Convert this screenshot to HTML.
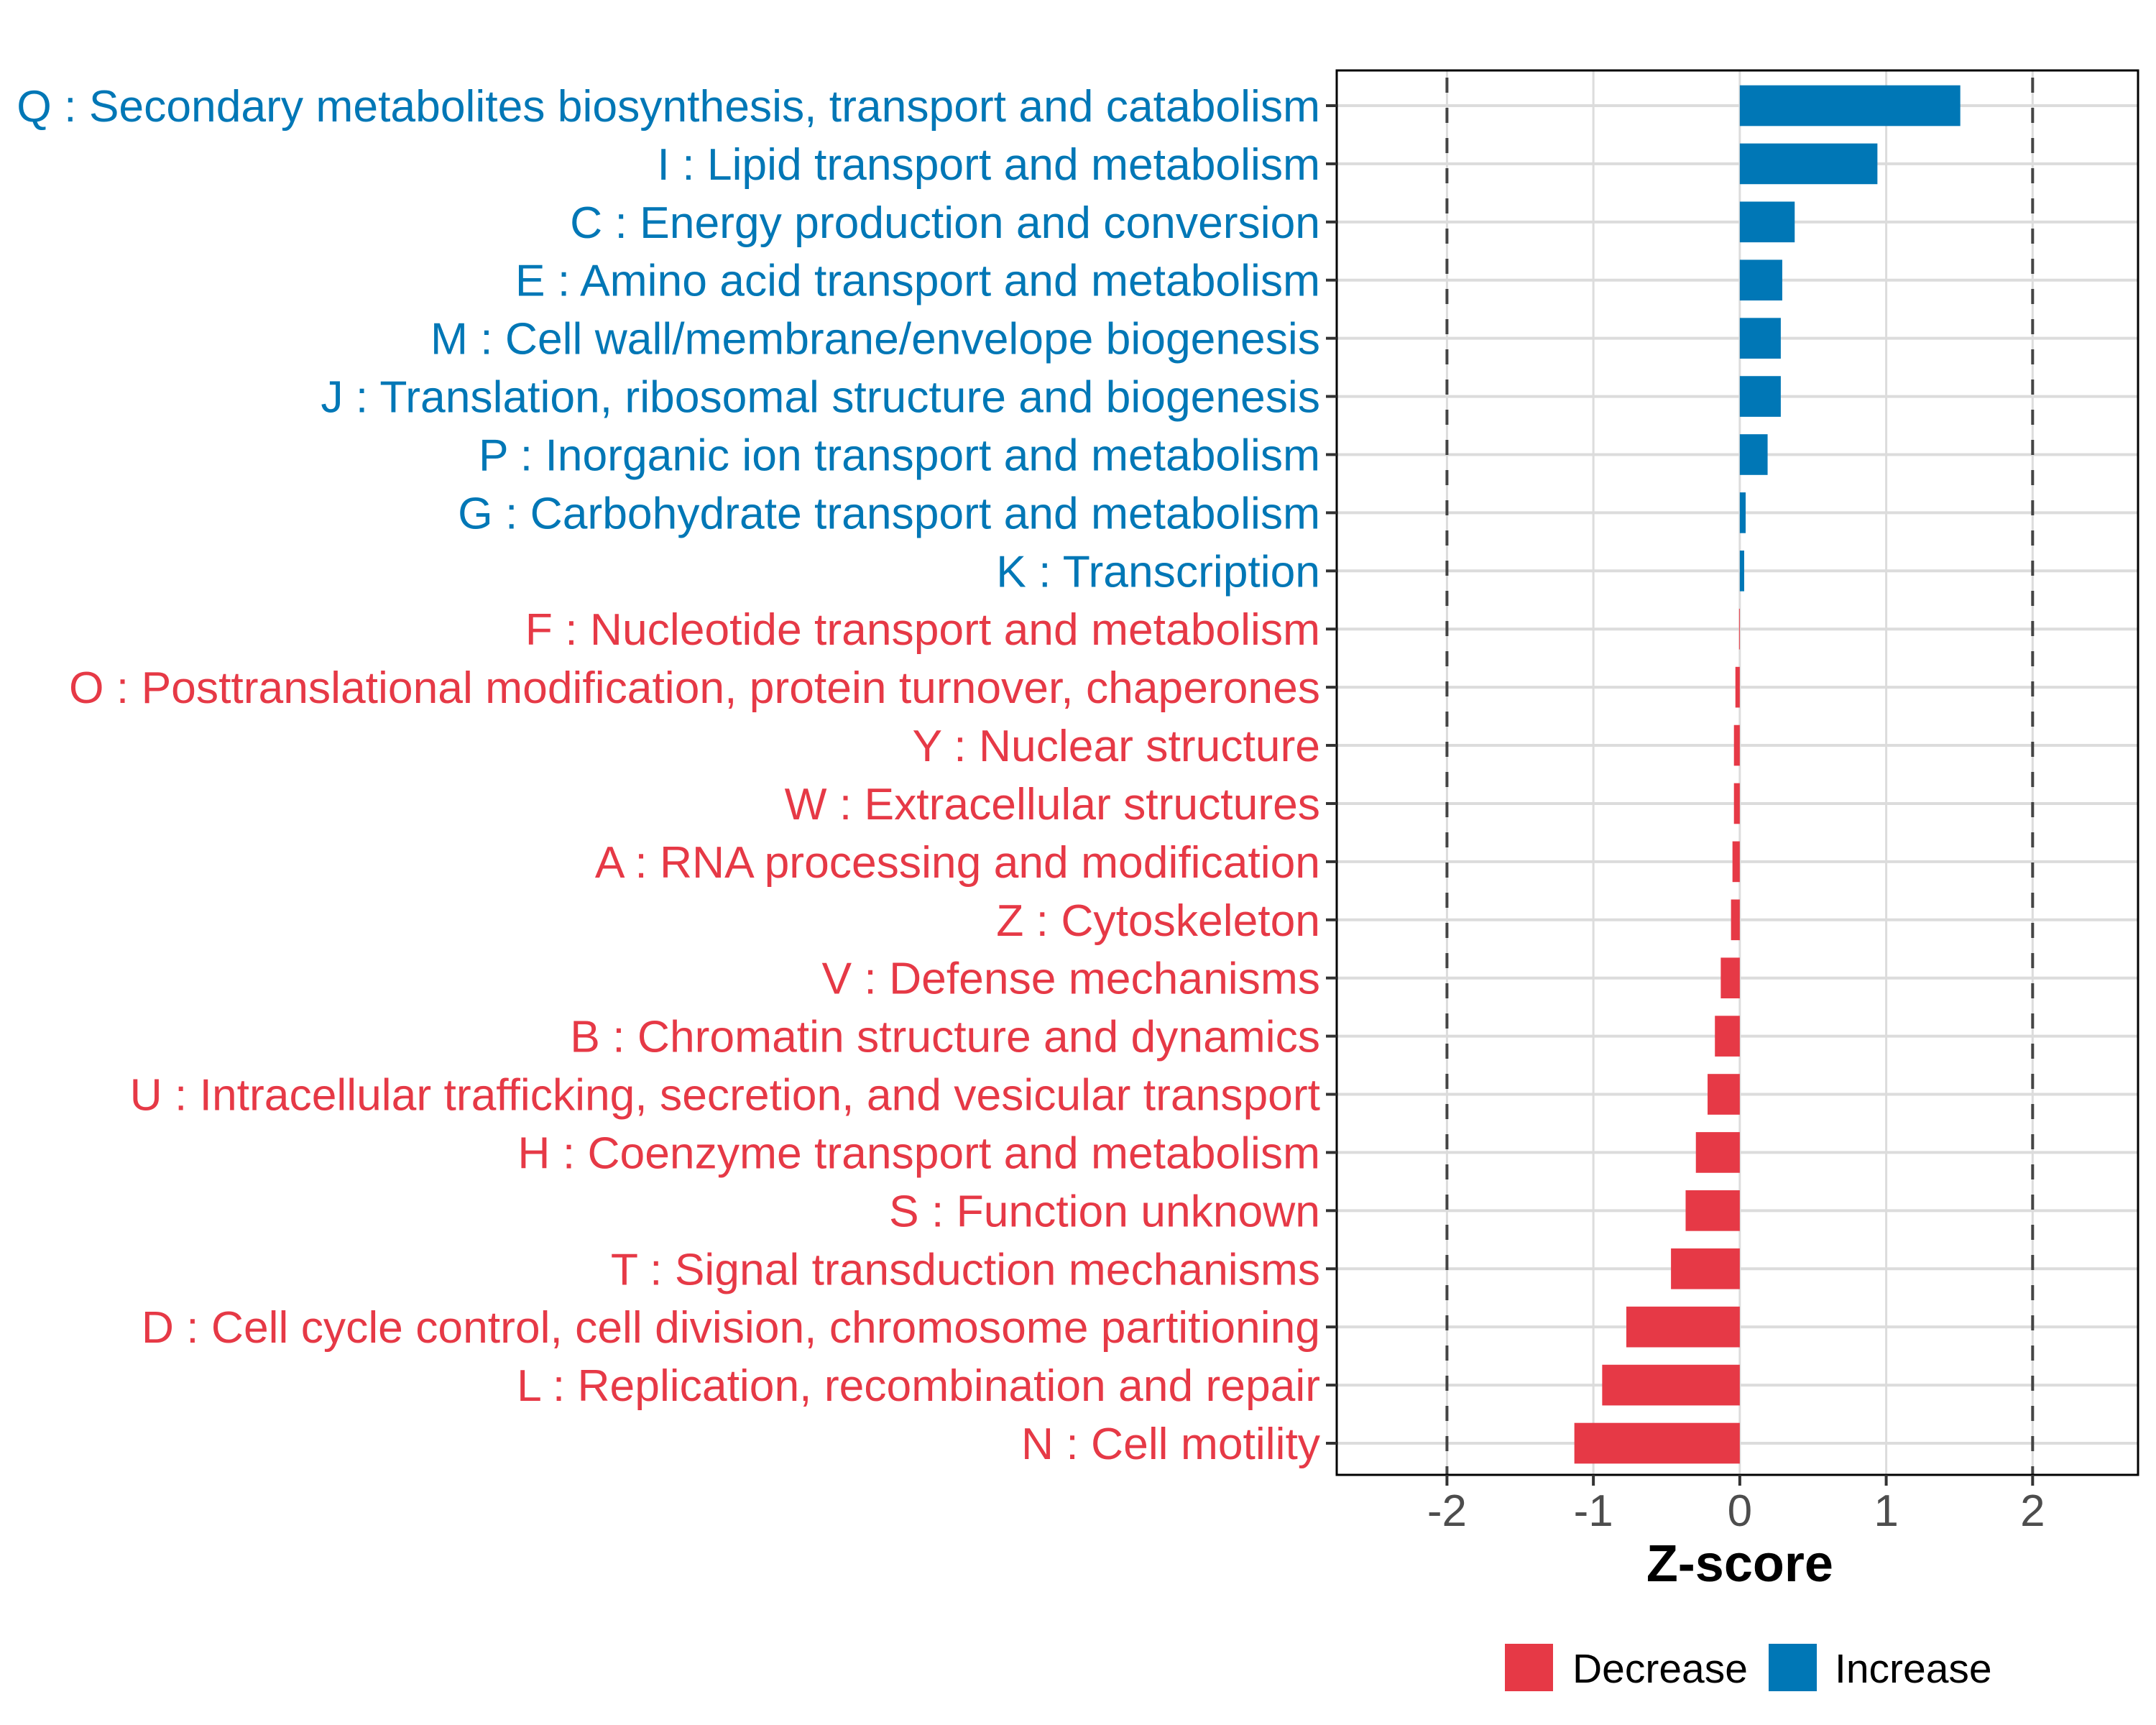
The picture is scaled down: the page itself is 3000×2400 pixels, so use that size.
<!DOCTYPE html>
<html><head><meta charset="utf-8"><style>
html,body{margin:0;padding:0;background:#fff}
svg{display:block;font-family:"Liberation Sans",Arial,sans-serif}
</style></head><body>
<svg id="chart" width="3000" height="2400" viewBox="0 0 3000 2400" xmlns="http://www.w3.org/2000/svg"></svg>
<script>
const categories = [
"Q : Secondary metabolites biosynthesis, transport and catabolism",
"I : Lipid transport and metabolism",
"C : Energy production and conversion",
"E : Amino acid transport and metabolism",
"M : Cell wall/membrane/envelope biogenesis",
"J : Translation, ribosomal structure and biogenesis",
"P : Inorganic ion transport and metabolism",
"G : Carbohydrate transport and metabolism",
"K : Transcription",
"F : Nucleotide transport and metabolism",
"O : Posttranslational modification, protein turnover, chaperones",
"Y : Nuclear structure",
"W : Extracellular structures",
"A : RNA processing and modification",
"Z : Cytoskeleton",
"V : Defense mechanisms",
"B : Chromatin structure and dynamics",
"U : Intracellular trafficking, secretion, and vesicular transport",
"H : Coenzyme transport and metabolism",
"S : Function unknown",
"T : Signal transduction mechanisms",
"D : Cell cycle control, cell division, chromosome partitioning",
"L : Replication, recombination and repair",
"N : Cell motility"];
const zscores = [1.506,0.94,0.375,0.29,0.28,0.28,0.19,0.04,0.03,-0.005,-0.03,-0.04,-0.04,-0.05,-0.06,-0.13,-0.17,-0.22,-0.30,-0.37,-0.47,-0.775,-0.94,-1.13];
const xTicks = [-2,-1,0,1,2];
const xTickLabels = ["-2","-1","0","1","2"];
const thresholds = [-2,2];
const legendLabels = ["Decrease","Increase"];

const NS="http://www.w3.org/2000/svg";
const svg=document.getElementById('chart');
const P={l:1860,r:2975,t:98,b:2052};
const xMin=-2.753, xMax=2.72;
const RED="#E63946", BLUE="#0077B6";
function x(v){return P.l+(v-xMin)/(xMax-xMin)*(P.r-P.l);}
const rowStep=(2008-147)/(categories.length-1);
function y(i){return 147+i*rowStep;}
function mk(tag,attrs,parent){const e=document.createElementNS(NS,tag);for(const k in attrs)e.setAttribute(k,attrs[k]);(parent||svg).appendChild(e);return e;}

xTicks.forEach((t,i)=>{
  const g=mk('line',{x1:x(t),x2:x(t),y1:P.t,y2:P.b,stroke:'#dcdcdc','stroke-width':3});
  
  
});
categories.forEach((c,i)=>{
  const g=mk('line',{x1:P.l,x2:P.r,y1:y(i),y2:y(i),stroke:'#dcdcdc','stroke-width':4});
  
  
});
thresholds.forEach(t=>{
  const d=mk('line',{x1:x(t),x2:x(t),y1:P.t,y2:P.b,stroke:'#444','stroke-width':4,'stroke-dasharray':'21 21','stroke-dashoffset':'-10'});
  
  
});
const bh=rowStep*0.7;
zscores.forEach((v,i)=>{
  const x0=Math.min(x(0),x(v)), w=Math.max(Math.abs(x(v)-x(0)),0.8);
  const b=mk('rect',{x:x0,y:y(i)-bh/2,width:w,height:bh,fill:v>=0?BLUE:RED});
  
  
});
const br=mk('rect',{x:P.l,y:P.t,width:P.r-P.l,height:P.b-P.t,fill:'none',stroke:'#000','stroke-width':3});


categories.forEach((c,i)=>{
  const tk=mk('line',{x1:P.l-15,x2:P.l,y1:y(i),y2:y(i),stroke:'#333','stroke-width':4});
  
  
  const t=mk('text',{x:1837,y:y(i)+22,'text-anchor':'end','font-size':62.4,fill:zscores[i]>=0?BLUE:RED});
  t.textContent=c;
  
  
});
xTicks.forEach((t,i)=>{
  const tk=mk('line',{x1:x(t),x2:x(t),y1:P.b,y2:P.b+15,stroke:'#333','stroke-width':4});
  
  
  const l=mk('text',{x:x(t),y:2123,'text-anchor':'middle','font-size':62,fill:'#4d4d4d'});
  l.textContent=xTickLabels[i];
  
  
});
const xt=mk('text',{x:x(0),y:2200,'text-anchor':'middle','font-size':72,'font-weight':'bold',fill:'#000'});
xt.textContent='Z-score';


const lx=[2094,2461], tx=[2188,2553], lc=[RED,BLUE];
legendLabels.forEach((s,i)=>{
  const k=mk('rect',{x:lx[i],y:2287,width:67,height:66,fill:lc[i]});
  
  
  const t=mk('text',{x:tx[i],y:2341,'font-size':57,fill:'#000'});
  t.textContent=s;
  
  
});
</script>
</body></html>
